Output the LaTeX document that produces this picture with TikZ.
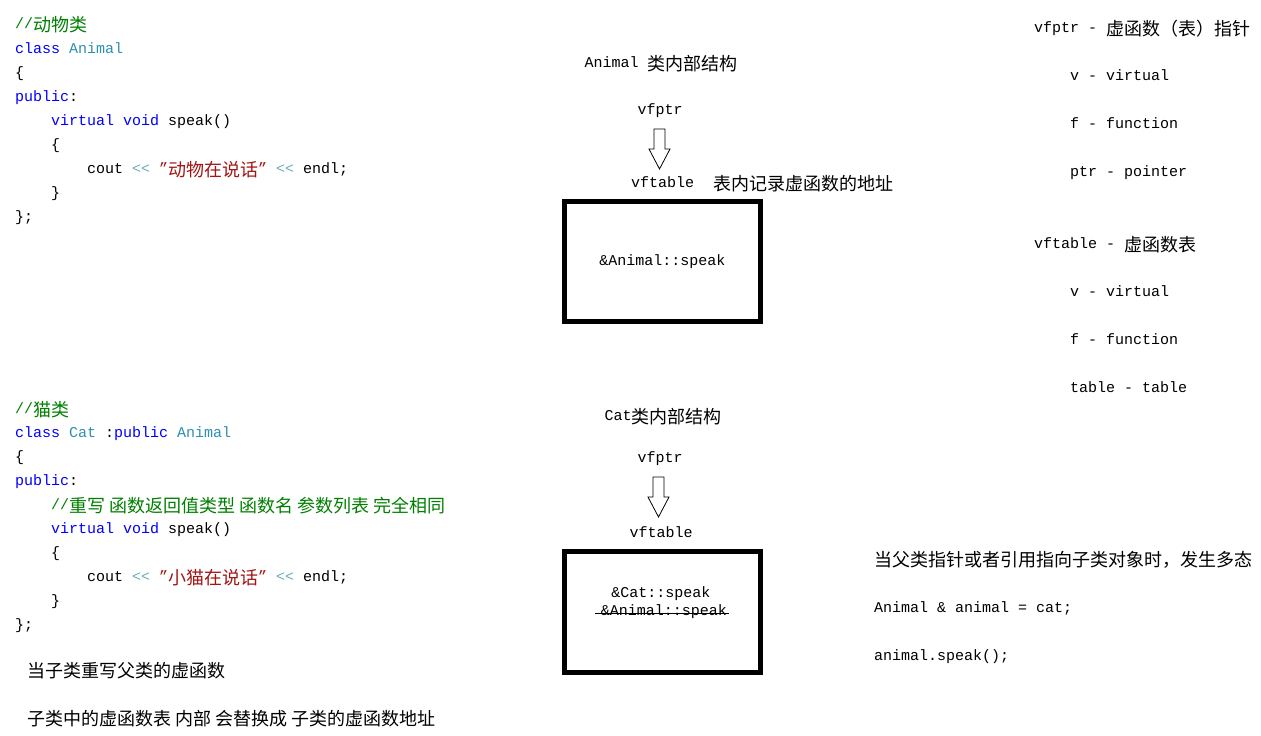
\documentclass[tikz,border=0pt]{standalone}
\usepackage{fontspec}
\setmainfont{Liberation Mono}
\newfontfamily\cjk[Scale=1.2]{Noto Sans CJK SC}
\usetikzlibrary{calc}

\definecolor{cmt}{RGB}{0,128,0}
\definecolor{kw}{RGB}{0,0,255}
\definecolor{cls}{RGB}{43,145,175}
\definecolor{op}{RGB}{110,175,185}
\definecolor{str}{RGB}{163,21,21}

\newcommand{\zh}[1]{\raisebox{-3pt}{\cjk #1}}
\newcommand{\hollowarrow}[2]{%
  \draw[line width=0.8pt, fill=white] ($(#1)+(-5.5,0)$) -- ($(#1)+(5.5,0)$)
    -- ($(#2)+(5.5,-20)$) -- ($(#2)+(10.5,-20)$) -- (#2)
    -- ($(#2)+(-10.5,-20)$) -- ($(#2)+(-5.5,-20)$) -- cycle;}

\begin{document}
\begin{tikzpicture}[x=1pt, y=-1pt,
  code/.style={anchor=mid west, inner sep=0pt, yshift=-2pt, font=\fontsize{15}{18}\selectfont},
  txt/.style={inner sep=0pt, yshift=-1pt, font=\fontsize{15}{18}\selectfont},
  vtable/.style={draw, line width=5pt, minimum width=196pt, inner sep=0pt,
    font=\fontsize{15}{18}\selectfont}]
  \useasboundingbox[fill=white] (0,0) rectangle (1261,736);

  % Animal class
  \node[code] (aCmt) at (15,24) {\textcolor{cmt}{//\zh{动物类}}};
  \node[code] (aHead) at (15,49) {\textcolor{kw}{class} \textcolor{cls}{Animal}};
  \node[code] (aOpen) at (15,73) {\{};
  \node[code] (aPub) at (15,97) {\textcolor{kw}{public}:};
  \node[code] (aFun) at (51,121) {\textcolor{kw}{virtual} \textcolor{kw}{void} speak()};
  \node[code] (aFunOpen) at (51,145) {\{};
  \node[code] (aCout) at (87,169) {cout \textcolor{op}{<{}<} \textcolor{str}{"\zh{动物在说话}"} \textcolor{op}{<{}<} endl;};
  \node[code] (aFunClose) at (51,193) {\}};
  \node[code] (aClose) at (15,217) {\};};

  % Cat class
  \node[code] (cCmt) at (15,409) {\textcolor{cmt}{//\zh{猫类}}};
  \node[code] (cHead) at (15,433) {\textcolor{kw}{class} \textcolor{cls}{Cat} :\textcolor{kw}{public} \textcolor{cls}{Animal}};
  \node[code] (cOpen) at (15,457) {\{};
  \node[code] (cPub) at (15,481) {\textcolor{kw}{public}:};
  \node[code] (cCmt2) at (51,505) {\textcolor{cmt}{//\zh{重写 函数返回值类型 函数名 参数列表 完全相同}}};
  \node[code] (cFun) at (51,529) {\textcolor{kw}{virtual} \textcolor{kw}{void} speak()};
  \node[code] (cFunOpen) at (51,553) {\{};
  \node[code] (cCout) at (87,577) {cout \textcolor{op}{<{}<} \textcolor{str}{"\zh{小猫在说话}"} \textcolor{op}{<{}<} endl;};
  \node[code] (cFunClose) at (51,601) {\}};
  \node[code] (cClose) at (15,625) {\};};

  \node[code] (note1) at (27,670) {\zh{当子类重写父类的虚函数}};
  \node[code] (note2) at (27,718) {\zh{子类中的虚函数表 内部 会替换成 子类的虚函数地址}};

  % Animal layout
  \node[txt] (aTitle) at (661,63) {Animal \zh{类内部结构}};
  \node[txt] (vfptrA) at (660,110) {vfptr};
  \node[code] (vftableA) at (631,183) {vftable};
  \node[code] (tblNote) at (713,183) {\zh{表内记录虚函数的地址}};
  \node[vtable, minimum height=120pt] (boxA) at (662.5,261.5) {\&Animal::speak};
  \coordinate (aTop) at (659.5,129);
  \coordinate (aTip) at (659.5,169);
  \hollowarrow{aTop}{aTip}

  % Cat layout
  \node[txt] (cTitle) at (663,416) {Cat\zh{类内部结构}};
  \node[txt] (vfptrC) at (660,458) {vfptr};
  \node[txt] (vftableC) at (661,531) {vftable};
  \node[vtable, minimum height=121pt] (boxC) at (662.5,612) {};
  \node[txt] (catSpeak) at (661,593) {\&Cat::speak};
  \node[txt] (oldSpeak) at (664,611) {\&Animal::speak};
  \draw[line width=1pt] ($(oldSpeak.west)+(-6,1)$) -- ($(oldSpeak.east)+(2,1)$);
  \coordinate (cTop) at (658.5,477);
  \coordinate (cTip) at (658.5,517);
  \hollowarrow{cTop}{cTip}

  % glossary
  \node[code] (g1) at (1034,28) {vfptr - \zh{虚函数（表）指针}};
  \node[code] (g2) at (1070,76) {v - virtual};
  \node[code] (g3) at (1070,124) {f - function};
  \node[code] (g4) at (1070,172) {ptr - pointer};
  \node[code] (g5) at (1034,244) {vftable - \zh{虚函数表}};
  \node[code] (g6) at (1070,292) {v - virtual};
  \node[code] (g7) at (1070,340) {f - function};
  \node[code] (g8) at (1070,388) {table - table};

  % polymorphism
  \node[code] (p1) at (874,559) {\zh{当父类指针或者引用指向子类对象时，发生多态}};
  \node[code] (p2) at (874,608) {Animal \& animal = cat;};
  \node[code] (p3) at (874,656) {animal.speak();};
\end{tikzpicture}
\end{document}
